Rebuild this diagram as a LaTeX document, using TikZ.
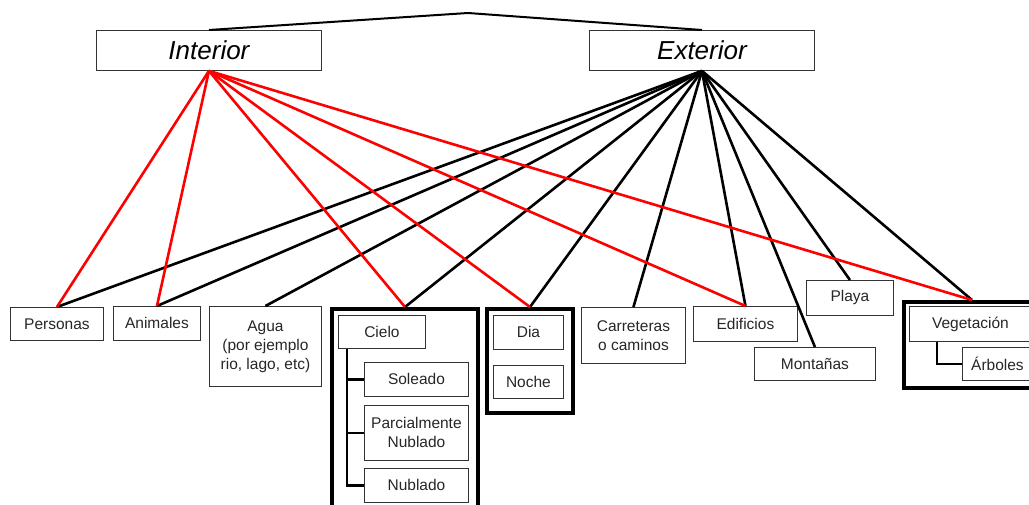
\documentclass[tikz,border=0pt]{standalone}
\usepackage{fontspec}
\setmainfont{Liberation Sans}
\usetikzlibrary{calc}
\begin{document}
\begin{tikzpicture}[x=1pt,y=-1pt,
  box/.style={draw=black!80,line width=0.9pt,anchor=north west,inner sep=0pt,
    align=center,text=black!85,font=\fontsize{15.5}{19}\selectfont},
  topbox/.style={box,text=black,font=\fontsize{26}{28}\selectfont\itshape},
  grp/.style={draw=black,line width=4pt,anchor=north west,inner sep=0pt},
  redl/.style={draw=red,line width=2.6pt},
  blkl/.style={draw=black,line width=2.6pt},
  treel/.style={draw=black,line width=2.6pt}]
\useasboundingbox (0,0) rectangle (1029,505);
\clip (0,0) rectangle (1029,505);

% top level
\node[topbox,minimum width=225pt,minimum height=40pt] (int) at (96,30) {Interior};
\node[topbox,minimum width=225pt,minimum height=40pt] (ext) at (589,30) {Exterior};
\coordinate (peak) at (468,13);
\draw[line width=2pt] (int.north) -- (peak) -- (ext.north);

% leaf boxes
\node[box,minimum width=93pt,minimum height=33pt] (pers) at (10,307) {Personas};
\node[box,minimum width=87pt,minimum height=34pt] (anim) at (113,306) {Animales};
\node[box,minimum width=112pt,minimum height=80pt] (agua) at (209,306) {Agua\\(por ejemplo\\rio, lago, etc)};
\node[box,minimum width=104pt,minimum height=56pt] (carr) at (581,307) {Carreteras\\o caminos};
\node[box,minimum width=104pt,minimum height=35pt] (edif) at (693,306) {Edificios};
\node[box,minimum width=121pt,minimum height=33pt] (mont) at (754,347) {Montañas};
\node[box,minimum width=87pt,minimum height=35pt] (play) at (806,280) {Playa};

% sky group
\node[grp,minimum width=146pt,minimum height=220pt] (gcielo) at (330,307) {};
\node[box,minimum width=87pt,minimum height=33pt] (cielo) at (338,315) {Cielo};
\node[box,minimum width=104pt,minimum height=34pt] (sol) at (364,362) {Soleado};
\node[box,minimum width=104pt,minimum height=55pt] (parc) at (364,405) {Parcialmente\\Nublado};
\node[box,minimum width=104pt,minimum height=34pt] (nub) at (364,468) {Nublado};
\coordinate (ctrunk) at ($(cielo.south west)+(9,0)$);
\draw[treel] (ctrunk) |- (sol.west);
\draw[treel] (ctrunk) |- (parc.west);
\draw[treel] (ctrunk) |- (nub.west);

% day / night group
\node[grp,minimum width=86pt,minimum height=104pt] (gdia) at (485,307) {};
\node[box,minimum width=70pt,minimum height=34pt] (dia) at (493,315) {Dia};
\node[box,minimum width=70pt,minimum height=33pt] (noche) at (493,365) {Noche};

% vegetation group
\node[grp,minimum width=136pt,minimum height=86pt] (gveg) at (902,300) {};
\node[box,minimum width=122pt,minimum height=35pt] (veg) at (909,306) {Vegetación};
\node[box,minimum width=70pt,minimum height=33pt] (arb) at (962,347) {Árboles};
\draw[treel] ($(veg.south west)+(28,0)$) |- (arb.west);

% links from Exterior
\foreach \t in {pers,anim,agua,gcielo,gdia,carr,edif,mont,play,gveg}
  \draw[blkl] (ext.south) -- (\t.north);

% links from Interior
\foreach \t in {pers,anim,gcielo,gdia,edif,gveg}
  \draw[redl] (int.south) -- (\t.north);
\end{tikzpicture}
\end{document}
